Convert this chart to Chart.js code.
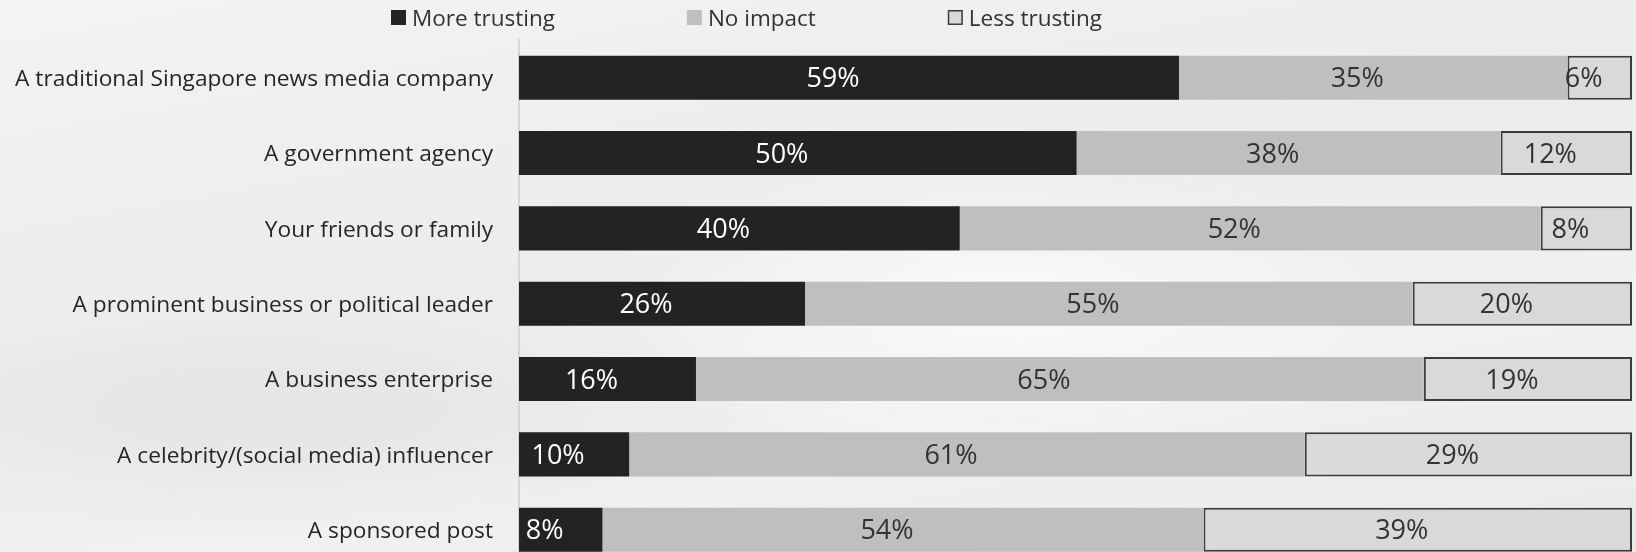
<!DOCTYPE html>
<html>
<head>
<meta charset="utf-8">
<script src="https://cdn.jsdelivr.net/npm/chart.js@4"></script>
<style>
  html,body{margin:0;padding:0;width:1636px;height:552px;overflow:hidden;}
  body{
    background:
      radial-gradient(ellipse 420px 160px at 1000px 300px, rgba(255,255,255,0.7), rgba(255,255,255,0)),
      radial-gradient(ellipse 500px 120px at 300px 420px, rgba(210,210,210,0.35), rgba(210,210,210,0)),
      linear-gradient(170deg,#f3f3f3 0%,#ececec 45%,#f1f1f1 70%,#e9e9e9 100%);
  }
  canvas{display:block;}
</style>
</head>
<body>
<canvas id="chart" width="1636" height="607"></canvas>
<script>
const categories = [
  'A traditional Singapore news media company',
  'A government agency',
  'Your friends or family',
  'A prominent business or political leader',
  'A business enterprise',
  'A celebrity/(social media) influencer',
  'A sponsored post'
];
const seriesNames = ['More trusting','No impact','Less trusting'];
const moreTrusting = [59.3, 50.1, 39.6, 25.7, 15.9, 9.9, 7.5];
const noImpact     = [34.9, 38.1, 52.2, 54.6, 65.4, 60.7, 54.0];
const lessTrusting = [5.8, 11.8, 8.2, 19.7, 18.7, 29.4, 38.5];

const FONT = '"Open Sans", "Noto Sans", sans-serif';

// labels in the middle of each segment (a bit left, as in the original)
const barLabels = {
  id:'barLabels',
  afterDatasetsDraw(chart){
    const ctx = chart.ctx;
    ctx.save();
    ctx.font = '27px ' + FONT;
    ctx.textAlign = 'center';
    ctx.textBaseline = 'middle';
    chart.data.datasets.forEach((ds,i)=>{
      const meta = chart.getDatasetMeta(i);
      meta.data.forEach((bar,j)=>{
        const v = ds.data[j];
        const cx = (bar.x + bar.base)/2 - 16;
        ctx.fillStyle = ds.labelColor;
        ctx.fillText(Math.round(v)+'%', cx, bar.y + 2);
      });
    });
    ctx.restore();
  }
};

// legend drawn by hand so the spacing matches
const topLegend = {
  id:'topLegend',
  afterDraw(chart){
    const ctx = chart.ctx;
    ctx.save();
    ctx.font = '22.5px ' + FONT;
    ctx.textBaseline = 'middle';
    ctx.textAlign = 'left';
    let x = 391;
    const y = 10, box = 15;
    chart.data.datasets.forEach(ds=>{
      ctx.fillStyle = ds.backgroundColor;
      ctx.fillRect(x, y, box, box);
      if(ds.borderWidth){
        ctx.strokeStyle = ds.borderColor; ctx.lineWidth = 1.5;
        ctx.strokeRect(x+0.75, y+0.75, box-1.5, box-1.5);
      }
      ctx.fillStyle = '#333';
      ctx.fillText(ds.label, x+box+6, y+box/2+2);
      x += box + 6 + ctx.measureText(ds.label).width + 132;
    });
    ctx.restore();
  }
};

function draw(){
  new Chart(document.getElementById('chart'),{
    type:'bar',
    data:{
      labels:categories,
      datasets:[
        {label:seriesNames[0], data:moreTrusting, backgroundColor:'#232323', borderWidth:0, labelColor:'#ffffff'},
        {label:seriesNames[1], data:noImpact, backgroundColor:'#bfbfbf', borderWidth:0, labelColor:'#333333'},
        {label:seriesNames[2], data:lessTrusting, backgroundColor:'#d9d9d9', borderColor:'#3c3c3c', borderWidth:2, borderSkipped:false, labelColor:'#333333'}
      ]
    },
    options:{
      indexAxis:'y',
      responsive:false,
      animation:false,
      datasets:{bar:{categoryPercentage:1, barPercentage:0.585}},
      layout:{padding:{top:40,right:4,bottom:0,left:0}},
      plugins:{legend:{display:false}, tooltip:{enabled:false}},
      scales:{
        x:{stacked:true, min:0, max:100, display:false},
        y:{
          stacked:true,
          grid:{display:false, drawTicks:false},
          border:{display:true, color:'#d6d6d6', width:2},
          ticks:{color:'#262626', padding:26, labelOffset:2, font:{family:FONT, size:22.7}},
          afterFit(scale){ scale.width = 519; }
        }
      }
    },
    plugins:[barLabels, topLegend]
  });
}

document.fonts.load('23px "Open Sans"').then(draw, draw);
</script>
</body>
</html>
